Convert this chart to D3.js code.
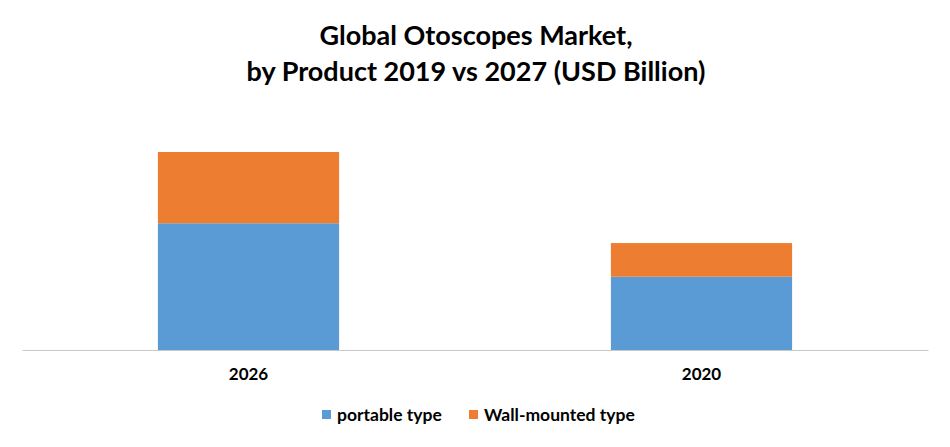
<!DOCTYPE html>
<html>
<head>
<meta charset="utf-8">
<script src="https://cdn.jsdelivr.net/npm/d3@7"></script>
<style>
  body { margin: 0; background: #fff; }
  text { font-family: Lato, "Open Sans", sans-serif; font-weight: bold; fill: #000; }
</style>
</head>
<body>
<div id="chart"></div>
<script>
// values, USD Billion (approx.)
var categories = ["2026", "2020"];
var seriesNames = ["portable type", "Wall-mounted type"];
var portable = [0.64, 0.37];
var wallMounted = [0.36, 0.17];
var colors = ["#5B9BD5", "#ED7D31"];
var titleLines = ["Global Otoscopes Market,", "by Product 2019 vs 2027 (USD Billion)"];

var width = 950, height = 447;

var svg = d3.select("#chart").append("svg")
  .attr("width", width)
  .attr("height", height);

var rows = categories.map(function (c, i) {
  return { cat: c, portable: portable[i], wall: wallMounted[i] };
});
var stacked = d3.stack().keys(["portable", "wall"])(rows);

var x = d3.scaleBand()
  .domain(categories)
  .range([22, 928])
  .paddingInner(0.6)
  .paddingOuter(0.3);

var y = d3.scaleLinear()
  .domain([0, 1])
  .range([350, 152]);

// title
svg.selectAll("text.title")
  .data(titleLines)
  .enter().append("text")
  .attr("class", "title")
  .attr("x", 476)
  .attr("y", function (d, i) { return 45 + i * 36; })
  .attr("text-anchor", "middle")
  .style("font-size", "27px")
  .text(function (d) { return d; });

// bars
svg.selectAll("g.series")
  .data(stacked)
  .enter().append("g")
  .attr("class", "series")
  .attr("fill", function (d, i) { return colors[i]; })
  .selectAll("rect")
  .data(function (d) { return d; })
  .enter().append("rect")
  .attr("x", function (d) { return x(d.data.cat); })
  .attr("width", x.bandwidth())
  .attr("y", function (d) { return y(d[1]); })
  .attr("height", function (d) { return y(d[0]) - y(d[1]); });

// x axis
var xAxis = svg.append("g")
  .attr("transform", "translate(0,350)")
  .call(d3.axisBottom(x).tickSize(0).tickPadding(18));
xAxis.select(".domain").attr("stroke", "#c8c8c8").attr("stroke-width", 1.2);
xAxis.selectAll("text")
  .style("font-size", "17px")
  .style("font-family", "Lato, 'Open Sans', sans-serif")
  .style("font-weight", "bold")
  .attr("fill", "#000");

// legend
var legendX = [322, 469];
var legend = svg.selectAll("g.legend")
  .data(seriesNames)
  .enter().append("g")
  .attr("class", "legend")
  .attr("transform", function (d, i) { return "translate(" + legendX[i] + ",410)"; });
legend.append("rect")
  .attr("width", 9).attr("height", 9)
  .attr("fill", function (d, i) { return colors[i]; });
legend.append("text")
  .attr("x", 15).attr("y", 11)
  .style("font-size", "17.5px")
  .text(function (d) { return d; });
</script>
</body>
</html>
